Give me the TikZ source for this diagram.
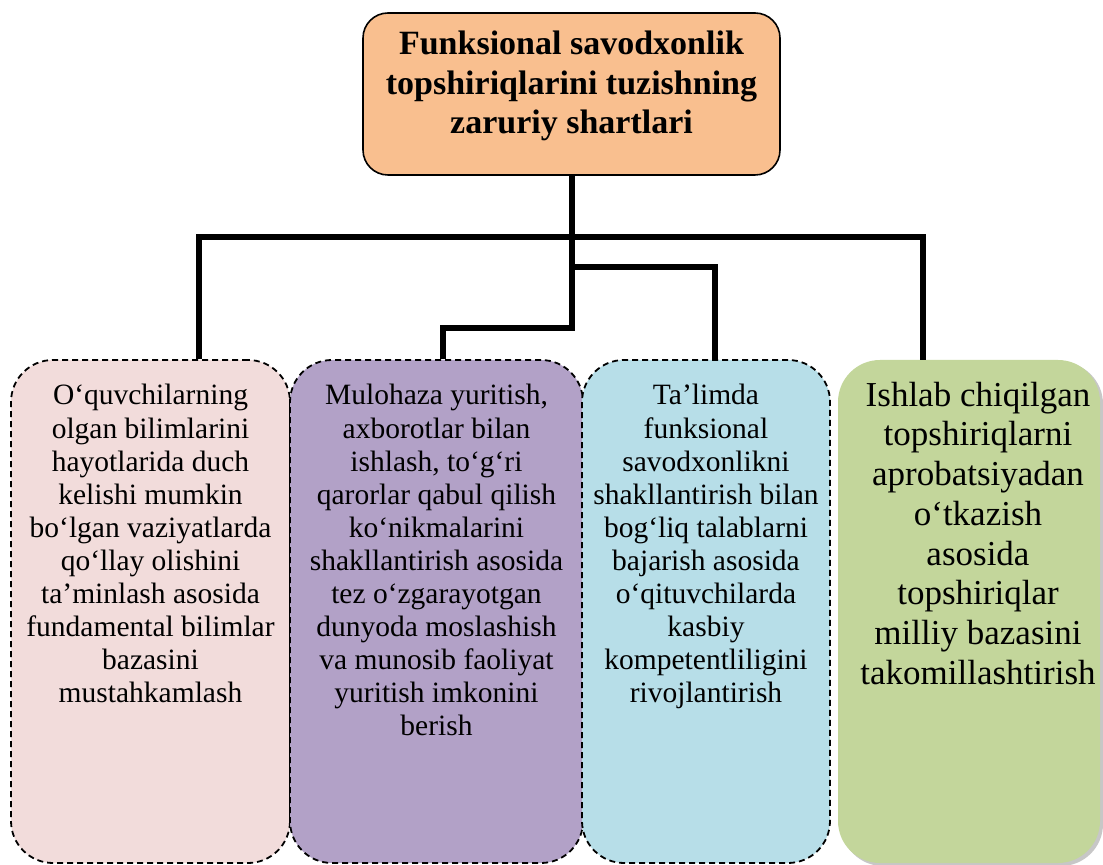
\documentclass[tikz,border=0pt]{standalone}
\usepackage{fontspec}
\setmainfont{Liberation Serif}
\usetikzlibrary{positioning}

\definecolor{titlefill}{HTML}{F9BF8F}
\definecolor{pinkfill}{HTML}{F2DCDB}
\definecolor{purplefill}{HTML}{B2A1C7}
\definecolor{cyanfill}{HTML}{B7DEE8}
\definecolor{greenfill}{HTML}{C3D69B}

\tikzset{
	conn/.style={line width=3pt},
	condbox/.style={rounded corners=21pt, draw=black, line width=0.9pt, dash pattern=on 3pt off 2pt, inner sep=0pt, minimum height=251.5pt},
	condtext/.style={inner sep=0pt, align=center, font=\fontsize{14.75}{16.55}\selectfont},
}

\begin{document}
\begin{tikzpicture}[x=0.5pt, y=-0.5pt]
				\useasboundingbox (0,0) rectangle (1103,865);

				%Nodes
				\node[rounded corners=12.5pt, draw, fill=titlefill, line width=0.8pt, inner sep=0pt, minimum width=208.5pt, minimum height=81pt] (title) at (571.5,94) {};
				\node[inner sep=0pt, anchor=north, align=center, font=\bfseries\fontsize{17}{19.75}\selectfont] (titletext) at (571.5,31) {Funksional savodxonlik\\topshiriqlarini tuzishning\\zaruriy shartlari};

				\node[condbox, fill=pinkfill, minimum width=139.5pt] (pinkbox) at (150.5,611.5) {};
				\node[condbox, fill=purplefill, minimum width=146.5pt] (purplebox) at (436.5,611.5) {};
				\node[condbox, fill=cyanfill, minimum width=124pt] (cyanbox) at (706,611.5) {};
				\fill[black!22, rounded corners=21pt] (841,362) rectangle (1103,866);
				\node[rounded corners=21pt, fill=greenfill, inner sep=0pt, minimum width=131pt, minimum height=251.5pt] (greenbox) at (969,611.5) {};

				\node[condtext, below=12.5pt of pinkbox.north] (pinktext) {O‘quvchilarning\\olgan bilimlarini\\hayotlarida duch\\kelishi mumkin\\bo‘lgan vaziyatlarda\\qo‘llay olishini\\ta’minlash asosida\\fundamental bilimlar\\bazasini\\mustahkamlash};
				\node[condtext, below=12.5pt of purplebox.north] (purpletext) {Mulohaza yuritish,\\axborotlar bilan\\ishlash, to‘g‘ri\\qarorlar qabul qilish\\ko‘nikmalarini\\shakllantirish asosida\\tez o‘zgarayotgan\\dunyoda moslashish\\va munosib faoliyat\\yuritish imkonini\\berish};
				\node[condtext, below=12.5pt of cyanbox.north] (cyantext) {Ta’limda\\funksional\\savodxonlikni\\shakllantirish bilan\\bog‘liq talablarni\\bajarish asosida\\o‘qituvchilarda\\kasbiy\\kompetentliligini\\rivojlantirish};
				\node[condtext, font=\fontsize{17.5}{19.85}\selectfont, below=11pt of greenbox.north, xshift=4.5pt] (greentext) {Ishlab chiqilgan\\topshiriqlarni\\aprobatsiyadan\\o‘tkazish\\asosida\\topshiriqlar\\milliy bazasini\\takomillashtirish};

				\coordinate (topbar) at (572,237);
				\coordinate (midbar) at (572,267);

				%Lines
				\draw[conn] (title.south) -- ++(0,152) -| ([xshift=3.25pt]purplebox.north);
				\draw[conn] ([xshift=24.25pt]pinkbox.north) |- (topbar) -| ([xshift=-23pt]greenbox.north);
				\draw[conn] (midbar) -| ([xshift=4.5pt]cyanbox.north);

		\end{tikzpicture}
\end{document}
